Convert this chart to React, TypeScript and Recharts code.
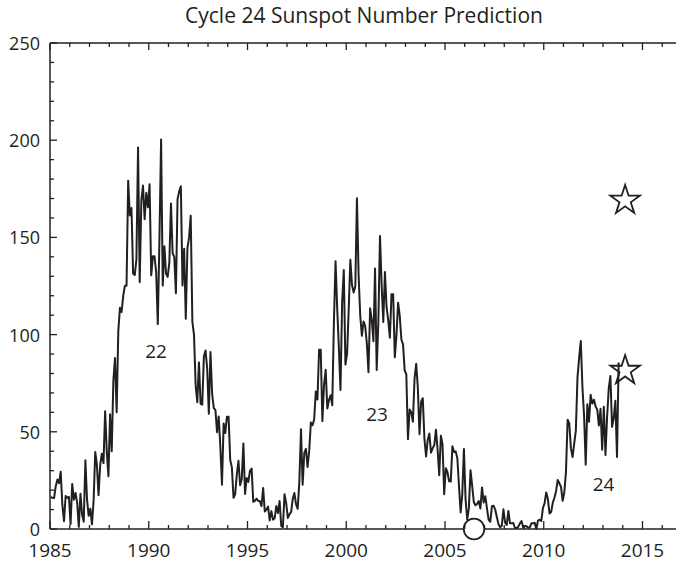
import { ComposedChart, Line, Scatter, XAxis, YAxis } from "recharts"

// monthly sunspot numbers, Jan..Dec
const START_YEAR = 1985
const y1985 = [16.5, 16.0, 16.0, 22.0, 25.5, 23.5, 29.5, 12.5, 4.0, 17.0, 16.0, 16.5]
const y1986 = [2.5, 23.2, 15.1, 18.5, 13.7, 1.1, 18.1, 7.4, 3.8, 35.4, 15.2, 6.8]
const y1987 = [10.4, 2.4, 14.7, 39.6, 33.0, 17.4, 33.0, 38.7, 33.9, 60.6, 39.9, 27.1]
const y1988 = [59.0, 40.0, 76.2, 88.0, 60.1, 101.8, 113.8, 111.6, 120.1, 125.1, 125.1, 179.2]
const y1989 = [161.3, 165.1, 131.4, 130.6, 138.5, 196.2, 126.9, 168.9, 176.7, 159.4, 173.0, 165.5]
const y1990 = [177.3, 130.5, 140.3, 140.3, 132.2, 105.4, 149.4, 200.3, 125.2, 145.5, 131.4, 129.7]
const y1991 = [136.9, 167.5, 141.9, 140.0, 121.3, 169.7, 173.7, 176.3, 125.3, 144.1, 108.2, 144.4]
const y1992 = [150.0, 161.1, 106.7, 99.8, 73.8, 65.2, 85.7, 64.5, 63.9, 88.7, 91.8, 82.6]
const y1993 = [59.3, 91.0, 69.8, 62.2, 61.3, 49.8, 57.9, 42.3, 22.8, 54.3, 49.4, 57.7]
const y1994 = [57.8, 35.5, 31.7, 16.1, 17.8, 28.0, 35.1, 22.5, 25.7, 44.0, 18.0, 26.2]
const y1995 = [24.2, 29.9, 31.1, 14.0, 14.5, 15.6, 14.5, 14.3, 11.8, 21.1, 9.0, 10.0]
const y1996 = [11.5, 4.4, 9.2, 4.8, 5.5, 11.8, 8.2, 14.4, 1.6, 0.9, 17.9, 13.3]
const y1997 = [5.7, 7.6, 8.7, 15.5, 18.5, 12.7, 10.4, 24.4, 51.3, 22.8, 39.0, 41.2]
const y1998 = [31.9, 40.3, 54.8, 53.4, 56.3, 70.7, 66.6, 92.2, 92.2, 55.5, 74.0, 81.9]
const y1999 = [62.0, 66.3, 68.8, 63.7, 106.4, 137.7, 113.5, 93.7, 71.5, 116.7, 133.2, 84.6]
const y2000 = [90.1, 112.9, 138.5, 125.5, 121.6, 124.9, 170.1, 130.5, 109.7, 99.4, 106.8, 104.4]
const y2001 = [95.6, 80.6, 113.5, 107.7, 96.6, 134.0, 81.8, 106.4, 150.7, 125.5, 106.5, 132.2]
const y2002 = [114.1, 107.4, 98.4, 120.7, 120.8, 88.3, 99.6, 116.4, 109.6, 97.5, 95.0, 81.6]
const y2003 = [79.5, 46.2, 61.5, 60.0, 55.2, 77.4, 85.0, 72.7, 48.8, 65.6, 67.3, 46.5]
const y2004 = [37.3, 45.8, 49.1, 39.3, 41.5, 43.2, 51.1, 40.9, 27.7, 48.0, 43.5, 17.9]
const y2005 = [31.3, 29.2, 24.5, 24.4, 42.6, 39.6, 39.9, 36.4, 22.1, 8.5, 18.0, 41.2]
const y2006 = [15.3, 4.9, 10.6, 30.2, 22.3, 13.9, 12.2, 12.9, 14.4, 10.5, 21.4, 13.6]
const y2007 = [16.9, 10.6, 4.8, 3.7, 11.7, 12.0, 10.0, 6.2, 2.4, 0.9, 1.7, 10.1]
const y2008 = [3.3, 2.1, 9.3, 2.9, 2.9, 3.1, 0.5, 0.5, 1.1, 2.9, 4.1, 0.8]
const y2009 = [1.5, 1.4, 0.7, 0.8, 2.9, 2.9, 3.2, 0.0, 4.3, 4.8, 4.1, 10.8]
const y2010 = [13.2, 18.8, 15.4, 8.0, 8.7, 13.6, 16.1, 19.6, 25.2, 23.5, 21.6, 14.5]
const y2011 = [19.0, 29.4, 56.2, 54.4, 41.6, 37.0, 43.9, 50.6, 78.0, 88.0, 96.7, 73.0]
const y2012 = [58.3, 33.1, 64.2, 55.2, 69.0, 64.5, 66.5, 63.0, 61.4, 53.3, 61.8, 40.8]
const y2013 = [62.9, 38.1, 57.9, 72.4, 78.7, 52.5, 57.0, 66.0, 37.0, 85.6]

const years = [
  y1985, y1986, y1987, y1988, y1989, y1990, y1991, y1992, y1993, y1994,
  y1995, y1996, y1997, y1998, y1999, y2000, y2001, y2002, y2003, y2004,
  y2005, y2006, y2007, y2008, y2009, y2010, y2011, y2012, y2013,
]

// predictions (stars) and cycle minimum (circle)
const predictionYears = [2014.12, 2014.12]
const predictionValues = [169, 81.5]
const minimumYear = [2006.47]
const minimumValue = [0]

const cycleNames = ["22", "23", "24"]
const cycleYears = [1990.37, 2001.56, 2013.03]
const cycleValues = [91.6, 58.9, 23.1]

const xTicks = Array.from({ length: 33 }, (_, i) => 1985 + i)
const yTicks = Array.from({ length: 26 }, (_, i) => i * 10)

const INK = "#231f20"
const FONT = "'Open Sans', 'Noto Sans', sans-serif"

const series = years.flatMap((vals, i) =>
  vals.map((v, m) => ({ t: START_YEAR + i + (m + 0.5) / 12, ssn: v }))
)
const stars = predictionYears.map((t, i) => ({ t, v: predictionValues[i] }))
const minimum = minimumYear.map((t, i) => ({ t, v: minimumValue[i] }))
const cycles = cycleNames.map((name, i) => ({ t: cycleYears[i], v: cycleValues[i], name }))

function BottomTick({ x, y, payload }: any) {
  const major = payload.value % 5 === 0
  return (
    <g>
      <line x1={x} x2={x} y1={y} y2={y - (major ? 8 : 4)} stroke={INK} strokeWidth={1.3} />
      {major && (
        <text x={x} y={y + 28} textAnchor="middle" fill={INK} fontSize={19} fontFamily={FONT}>
          {payload.value}
        </text>
      )}
    </g>
  )
}

function TopTick({ x, y, payload }: any) {
  const major = payload.value % 5 === 0
  return <line x1={x} x2={x} y1={y} y2={y + (major ? 7 : 4)} stroke={INK} strokeWidth={1.3} />
}

function LeftTick({ x, y, payload }: any) {
  const major = payload.value % 50 === 0
  return (
    <g>
      <line x1={x} x2={x + (major ? 7 : 4)} y1={y} y2={y} stroke={INK} strokeWidth={1.3} />
      {major && (
        <text x={x - 10} y={y + 7} textAnchor="end" fill={INK} fontSize={18} fontFamily={FONT}>
          {payload.value}
        </text>
      )}
    </g>
  )
}

function RightTick({ x, y, payload }: any) {
  const major = payload.value % 50 === 0
  return <line x1={x} x2={x - (major ? 8 : 4)} y1={y} y2={y} stroke={INK} strokeWidth={1.3} />
}

function Star({ cx, cy }: any) {
  const outer = 15.5
  const inner = outer * 0.382
  const pts = Array.from({ length: 10 }, (_, i) => {
    const r = i % 2 === 0 ? outer : inner
    const a = -Math.PI / 2 + (i * Math.PI) / 5
    return `${cx + r * Math.cos(a)},${cy + r * Math.sin(a)}`
  }).join(" ")
  return <polygon points={pts} fill="none" stroke={INK} strokeWidth={1.8} strokeLinejoin="miter" />
}

function Ring({ cx, cy }: any) {
  return <circle cx={cx} cy={cy} r={10.3} fill="#fff" stroke={INK} strokeWidth={1.8} />
}

function CycleLabel({ cx, cy, payload }: any) {
  return (
    <text x={cx} y={cy + 7} textAnchor="middle" fill={INK} fontSize={19} fontFamily={FONT}>
      {payload.name}
    </text>
  )
}

export default function App() {
  return (
    <div style={{ position: "absolute", left: 0, top: 0, width: 676, height: 563, overflow: "hidden", background: "#fff" }}>
      <div
        style={{
          position: "absolute",
          left: 0,
          top: 1,
          width: 728,
          textAlign: "center",
          fontFamily: FONT,
          fontSize: 21,
          lineHeight: "28px",
          color: INK,
        }}
      >
        Cycle 24 Sunspot Number Prediction
      </div>
      <ComposedChart
        width={692}
        height={563}
        data={series}
        margin={{ top: 42, right: 9, bottom: 0, left: 0 }}
      >
        <XAxis
          xAxisId="bottom"
          type="number"
          dataKey="t"
          domain={[1985, 2017]}
          ticks={xTicks}
          interval={0}
          height={34}
          tickSize={0}
          tickMargin={0}
          tickLine={false}
          axisLine={{ stroke: INK, strokeWidth: 1.5 }}
          tick={BottomTick}
        />
        <XAxis
          xAxisId="top"
          orientation="top"
          type="number"
          dataKey="t"
          domain={[1985, 2017]}
          ticks={xTicks}
          interval={0}
          height={1}
          tickSize={0}
          tickMargin={0}
          tickLine={false}
          axisLine={{ stroke: INK, strokeWidth: 1.5 }}
          tick={TopTick}
        />
        <YAxis
          yAxisId="left"
          type="number"
          domain={[0, 250]}
          ticks={yTicks}
          interval={0}
          width={50}
          tickSize={0}
          tickMargin={0}
          tickLine={false}
          axisLine={{ stroke: INK, strokeWidth: 1.5 }}
          tick={LeftTick}
        />
        <YAxis
          yAxisId="right"
          orientation="right"
          type="number"
          domain={[0, 250]}
          ticks={yTicks}
          interval={0}
          width={1}
          tickSize={0}
          tickMargin={0}
          tickLine={false}
          axisLine={{ stroke: INK, strokeWidth: 1.5 }}
          tick={RightTick}
        />
        <Line
          xAxisId="bottom"
          yAxisId="left"
          type="linear"
          dataKey="ssn"
          stroke={INK}
          strokeWidth={2}
          strokeLinejoin="round"
          dot={false}
          activeDot={false}
          isAnimationActive={false}
        />
        <Scatter
          xAxisId="bottom"
          yAxisId="left"
          data={stars}
          dataKey="v"
          shape={Star}
          isAnimationActive={false}
        />
        <Scatter
          xAxisId="bottom"
          yAxisId="left"
          data={minimum}
          dataKey="v"
          shape={Ring}
          isAnimationActive={false}
        />
        <Scatter
          xAxisId="bottom"
          yAxisId="left"
          data={cycles}
          dataKey="v"
          shape={CycleLabel}
          isAnimationActive={false}
        />
      </ComposedChart>
    </div>
  )
}
